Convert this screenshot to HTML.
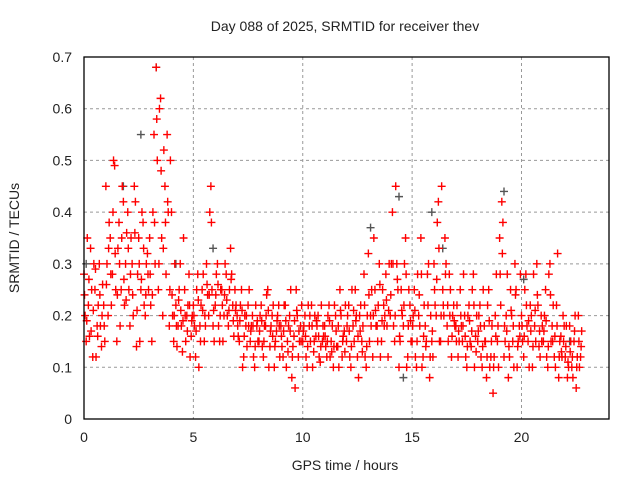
<!DOCTYPE html>
<html><head><meta charset="utf-8"><style>
body{margin:0;background:#fff;}
svg text{font-family:"Liberation Sans",sans-serif;font-size:14px;fill:#222;}
</style></head><body>
<svg id="chart" width="640" height="480">
<text x="345" y="31" text-anchor="middle">Day 088 of 2025, SRMTID for receiver thev</text>
<text x="345" y="470" text-anchor="middle">GPS time / hours</text>
<text transform="translate(19,238) rotate(-90)" text-anchor="middle">SRMTID / TECUs</text>
<g id="grid"></g><g id="ticks"></g><g id="marks"></g>
<rect x="84" y="57" width="525" height="362" fill="none" stroke="#000" stroke-width="1.3"/>
</svg>
<script>
const xTicks=[0,5,10,15,20];
const yTicks=[0,0.1,0.2,0.3,0.4,0.5,0.6,0.7];
const yTickLabels=["0","0.1","0.2","0.3","0.4","0.5","0.6","0.7"];
const seriesStep=0.1;
const seriesA=[.28,.15,.22,.33,.12,.25,.18,.30,.14,.22,
.45,.20,.35,.28,.49,.15,.38,.25,.42,.30,
.40,.18,.30,.45,.14,.35,.25,.38,.20,.32,
.35,.15,.55,.68,.25,.62,.20,.45,.55,.18,
.40,.15,.22,.18,.30,.13,.25,.20,.28,.16,
.22,.12,.28,.18,.25,.15,.30,.20,.45,.18,
.22,.30,.15,.25,.20,.28,.18,.33,.22,.25,
.20,.15,.25,.12,.18,.22,.15,.20,.10,.18,
.15,.22,.12,.18,.25,.14,.20,.10,.17,.22,
.18,.12,.22,.15,.20,.08,.16,.25,.12,.18,
.15,.20,.10,.18,.22,.13,.16,.20,.11,.15,
.18,.12,.22,.15,.10,.20,.14,.25,.12,.17,
.15,.22,.10,.18,.25,.12,.20,.15,.28,.10,
.32,.20,.12,.25,.18,.30,.15,.22,.28,.12,
.20,.40,.15,.30,.10,.25,.18,.35,.12,.22,
.15,.25,.10,.20,.35,.12,.18,.28,.08,.15,
.30,.20,.42,.15,.25,.35,.18,.28,.12,.22,
.18,.12,.25,.15,.20,.10,.22,.14,.28,.16,
.15,.22,.10,.18,.08,.25,.12,.05,.20,.15,
.35,.42,.12,.20,.08,.25,.15,.30,.10,.18,
.20,.12,.28,.15,.22,.10,.18,.30,.14,.20,
.15,.25,.10,.30,.18,.12,.22,.08,.16,.20,
.12,.08,.18,.10,.15,.06,.20,.12];
const seriesB=[.20,.35,.16,.25,.30,.12,.22,.18,.26,.15,
.30,.38,.22,.50,.25,.33,.18,.45,.22,.36,
.25,.35,.20,.42,.28,.15,.40,.22,.30,.25,
.22,.40,.30,.50,.60,.35,.52,.28,.40,.50,
.20,.30,.14,.25,.18,.35,.15,.22,.12,.20,
.18,.25,.10,.22,.28,.18,.24,.40,.25,.15,
.28,.18,.25,.15,.30,.20,.25,.28,.16,.22,
.16,.22,.10,.20,.14,.25,.18,.12,.22,.15,
.20,.14,.18,.24,.10,.18,.22,.15,.20,.12,
.14,.22,.10,.18,.25,.14,.06,.20,.15,.22,
.18,.12,.22,.15,.10,.20,.18,.12,.22,.16,
.14,.20,.12,.18,.22,.14,.10,.20,.16,.22,
.20,.12,.25,.15,.20,.08,.22,.18,.12,.20,
.15,.25,.35,.18,.22,.12,.25,.20,.18,.30,
.30,.18,.45,.25,.15,.20,.30,.10,.25,.15,
.20,.12,.28,.18,.10,.22,.15,.30,.20,.12,
.22,.38,.15,.45,.20,.30,.15,.25,.20,.18,
.22,.15,.18,.28,.12,.20,.15,.25,.10,.20,
.20,.12,.25,.15,.22,.10,.18,.12,.28,.10,
.22,.38,.15,.28,.12,.20,.10,.25,.15,.28,
.15,.25,.18,.10,.20,.28,.15,.22,.12,.18,
.20,.12,.28,.15,.22,.10,.32,.15,.12,.18,
.18,.10,.15,.08,.20,.12,.10,.17];
const seriesC=[.24,.19,.27,.17,.21,.29,.16,.24,.20,.18,
.26,.33,.28,.40,.32,.24,.30,.35,.27,.23,
.33,.28,.24,.36,.21,.30,.27,.33,.24,.28,
.28,.24,.38,.58,.30,.48,.33,.38,.42,.25,
.24,.20,.18,.23,.21,.19,.20,.17,.22,.19,
.20,.17,.23,.15,.21,.20,.26,.24,.38,.21,
.24,.26,.20,.22,.24,.23,.21,.27,.19,.21,
.18,.19,.21,.16,.20,.18,.17,.18,.14,.19,
.17,.19,.15,.20,.21,.17,.16,.14,.19,.18,
.16,.17,.19,.13,.17,.12,.19,.21,.17,.15,
.17,.16,.14,.20,.18,.15,.19,.16,.14,.18,
.16,.15,.19,.13,.14,.17,.18,.21,.15,.13,
.18,.17,.14,.21,.19,.16,.17,.13,.22,.14,
.24,.18,.20,.21,.15,.26,.19,.18,.23,.21,
.24,.30,.20,.27,.16,.21,.22,.28,.18,.19,
.18,.21,.15,.24,.28,.16,.14,.22,.12,.17,
.25,.27,.33,.20,.22,.28,.22,.20,.16,.19,
.15,.17,.20,.18,.16,.14,.19,.17,.22,.13,
.17,.18,.14,.15,.12,.19,.15,.10,.16,.18,
.28,.32,.18,.17,.14,.21,.18,.24,.14,.16,
.18,.16,.22,.19,.17,.14,.21,.24,.17,.15,
.17,.19,.14,.24,.15,.16,.18,.12,.13,.15,
.14,.11,.13,.12,.17,.10,.15,.14];
const grayTimes=[0.1,1.8,3.3,2.6,4.2,5.9,13.1,14.4,15.9,16.4,19.2,20.1,22.2,14.6];
const grayValues=[0.30,0.45,0.68,0.55,0.30,0.33,0.37,0.43,0.40,0.33,0.44,0.27,0.15,0.08];
const NS="http://www.w3.org/2000/svg";
const X=t=>84+t*(525/24);
const Y=v=>419-v*(362/0.7);
function mk(tag,attrs,parent){const e=document.createElementNS(NS,tag);for(const k in attrs)e.setAttribute(k,attrs[k]);parent.appendChild(e);return e;}
const grid=document.getElementById('grid'),ticks=document.getElementById('ticks'),marks=document.getElementById('marks');
xTicks.forEach(t=>{
 const l=mk('line',{x1:X(t),x2:X(t),y1:57,y2:419,stroke:'#999','stroke-dasharray':'3,3'},grid);
 
 
 const tl=mk('text',{x:X(t),y:442,'text-anchor':'middle'},ticks);tl.textContent=t;
 
 
});
yTicks.forEach((v,i)=>{
 const l=mk('line',{x1:84,x2:609,y1:Y(v),y2:Y(v),stroke:'#999','stroke-dasharray':'3,3'},grid);
 
 
 const tl=mk('text',{x:72,y:Y(v)+5,'text-anchor':'end'},ticks);tl.textContent=yTickLabels[i];
 
 
});
function cross(t,v,color){
 const cx=X(t),cy=Y(v);
 const p=mk('path',{d:`M${cx-4},${cy}H${cx+4}M${cx},${cy-4}V${cy+4}`,stroke:color,'stroke-width':1.4,fill:'none'},marks);
 
 
}
grayTimes.forEach((t,i)=>cross(t,grayValues[i],'#555'));
seriesA.forEach((v,i)=>cross(i*seriesStep,v,'#f00'));
seriesB.forEach((v,i)=>cross(i*seriesStep+0.05,v,'#f00'));
seriesC.forEach((v,i)=>cross(i*seriesStep+0.025,v,'#f00'));
</script>
</body></html>
